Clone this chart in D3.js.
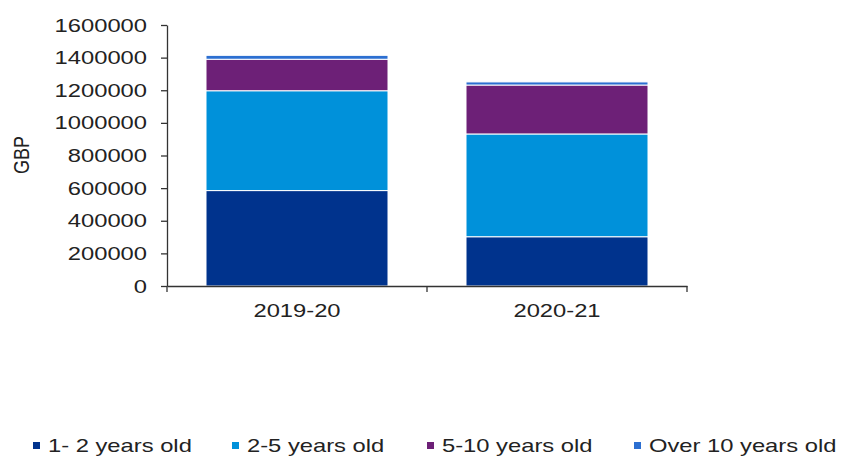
<!DOCTYPE html>
<html>
<head>
<meta charset="utf-8">
<script src="https://cdn.jsdelivr.net/npm/d3@7"></script>
<style>
  body { margin: 0; background: #fff; }
  text { font-family: "Liberation Sans", Arial, sans-serif; fill: #222; }
</style>
</head>
<body>
<script>
// data
const categories = ["2019-20", "2020-21"];
const seriesNames = ["1- 2 years old", "2-5 years old", "5-10 years old", "Over 10 years old"];
const oneToTwo = [585000, 302000];
const twoToFive = [612000, 630000];
const fiveToTen = [193000, 300000];
const overTen = [24000, 19000];
const yTicks = [0, 200000, 400000, 600000, 800000, 1000000, 1200000, 1400000, 1600000];

const colors = ["#00338D", "#0091DA", "#6D2077", "#2C6FD1"];
const sx = 1.25; // the reference text is stretched horizontally

const svgWidth = 841, svgHeight = 457;
const margin = { top: 25, left: 167 };
const width = 520, height = 261;

const rows = categories.map((c, i) => ({
  cat: c,
  s0: oneToTwo[i], s1: twoToFive[i], s2: fiveToTen[i], s3: overTen[i]
}));
const stack = d3.stack().keys(["s0", "s1", "s2", "s3"])(rows);

const svg = d3.select("body").append("svg")
  .attr("width", svgWidth)
  .attr("height", svgHeight);

const g = svg.append("g")
  .attr("transform", `translate(${margin.left},${margin.top})`);

const x = d3.scaleBand()
  .domain(categories)
  .range([0, width])
  .paddingInner(0.3)
  .paddingOuter(0.15);

const y = d3.scaleLinear()
  .domain([0, 1600000])
  .range([height, 0]);

// bars
g.selectAll(".layer")
  .data(stack)
  .enter().append("g")
  .attr("class", "layer")
  .attr("fill", (d, i) => colors[i])
  .selectAll("rect")
  .data(d => d)
  .enter().append("rect")
  .attr("x", d => x(d.data.cat))
  .attr("y", d => y(d[1]))
  .attr("width", x.bandwidth())
  .attr("height", d => y(d[0]) - y(d[1]))
  .attr("stroke", "#fff")
  .attr("stroke-width", 1);

// y axis
const yAxis = g.append("g")
  .call(d3.axisLeft(y).tickValues(yTicks).tickFormat(d3.format("d")).tickSize(6).tickSizeOuter(0));
yAxis.select(".domain").attr("stroke", "#333").attr("stroke-width", 1.3);
yAxis.selectAll(".tick line").attr("stroke", "#333").attr("stroke-width", 1.3);
yAxis.selectAll(".tick text")
  .attr("x", -20 / sx)
  .attr("transform", `scale(${sx},1)`)
  .style("font-size", "19px")
  .style("fill", "#222");

// x axis
const xAxis = g.append("g")
  .attr("transform", `translate(0,${height})`)
  .call(d3.axisBottom(x).tickSize(0).tickSizeOuter(0));
xAxis.select(".domain").attr("stroke", "#333").attr("stroke-width", 1.3);
xAxis.selectAll(".tick text")
  .attr("y", 0)
  .attr("dy", 0)
  .attr("transform", `translate(0,31) scale(${sx},1)`)
  .style("font-size", "19px")
  .style("fill", "#222");

// tick marks at the category boundaries
xAxis.selectAll(".bound")
  .data(d3.range(categories.length + 1))
  .enter().append("line")
  .attr("x1", i => i * x.step())
  .attr("x2", i => i * x.step())
  .attr("y1", 0)
  .attr("y2", 6)
  .attr("stroke", "#333")
  .attr("stroke-width", 1.3);

// y axis title
svg.append("text")
  .attr("transform", `translate(29,155) rotate(-90) scale(1,${sx})`)
  .attr("text-anchor", "middle")
  .style("font-size", "18px")
  .text("GBP");

// legend
const legendX = [33, 232, 427, 634];
const legend = svg.append("g").attr("transform", "translate(0,452)");
seriesNames.forEach((name, i) => {
  legend.append("rect")
    .attr("x", legendX[i])
    .attr("y", -10)
    .attr("width", 7)
    .attr("height", 7)
    .attr("fill", colors[i]);
  legend.append("text")
    .attr("x", (legendX[i] + 15) / sx)
    .attr("transform", `scale(${sx},1)`)
    .style("font-size", "19px")
    .text(name);
});
</script>
</body>
</html>
